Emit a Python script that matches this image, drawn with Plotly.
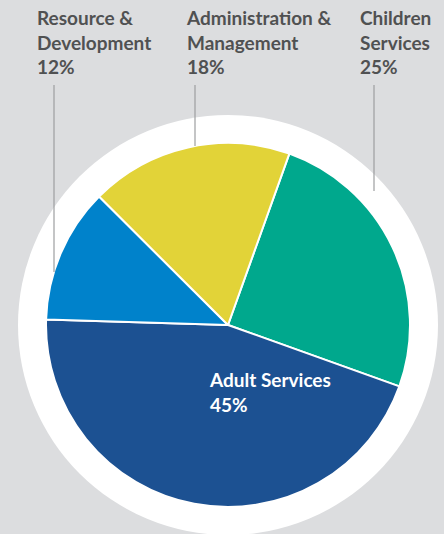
import plotly.graph_objects as go

# Budget split by service area (clockwise from Children Services)
categories = ["Children Services", "Adult Services", "Resource & Development", "Administration & Management"]
shares = [25, 45, 12, 18]
label_lines = [["Children", "Services"], ["Adult Services"], ["Resource &", "Development"], ["Administration &", "Management"]]
slice_colors = ["#00a88d", "#1c5192", "#0082cb", "#e2d338"]

W, H = 444, 534
BG = "#dcdddf"
TEXT_DARK = "#505152"
FONT = "Lato"
FONT_SIZE = 19


def px(x):
    return x / W


def py(y):
    return 1 - y / H


# pie geometry (pixels)
cx, cy, r = 228, 325, 182
ring_r = 210

fig = go.Figure(
    go.Pie(
        labels=categories,
        values=shares,
        sort=False,
        direction="clockwise",
        rotation=19.7,
        marker=dict(colors=slice_colors, line=dict(color="white", width=2)),
        textinfo="none",
        hoverinfo="label+percent",
        domain=dict(x=[px(cx - r), px(cx + r)], y=[py(cy + r), py(cy - r)]),
        showlegend=False,
    )
)

shapes = [
    dict(
        type="circle", xref="paper", yref="paper", layer="below",
        x0=px(cx - ring_r), x1=px(cx + ring_r), y0=py(cy + ring_r), y1=py(cy - ring_r),
        fillcolor="white", line=dict(width=0),
    )
]

# outside labels with vertical leader lines
outside = {
    "Resource & Development": dict(tx=35, lx=54, ly=272),
    "Administration & Management": dict(tx=184, lx=195, ly=146),
    "Children Services": dict(tx=358, lx=374, ly=191),
}

annotations = []
for cat, share, lines in zip(categories, shares, label_lines):
    text = "<br>".join(lines + [f"{share}%"])
    if cat in outside:
        o = outside[cat]
        annotations.append(dict(
            text=text, xref="paper", yref="paper", x=px(o["tx"]), y=py(4),
            xanchor="left", yanchor="top", align="left", showarrow=False,
            font=dict(family=FONT, size=FONT_SIZE, color=TEXT_DARK, weight="bold"),
        ))
        shapes.append(dict(
            type="line", xref="paper", yref="paper",
            x0=px(o["lx"]), x1=px(o["lx"]), y0=py(85), y1=py(o["ly"]),
            line=dict(color="#9d9ea0", width=1.2),
        ))
    else:
        annotations.append(dict(
            text=text, xref="paper", yref="paper", x=px(207), y=py(366),
            xanchor="left", yanchor="top", align="left", showarrow=False,
            font=dict(family=FONT, size=FONT_SIZE, color="white", weight="bold"),
        ))

fig.update_layout(
    width=W, height=H,
    margin=dict(l=0, r=0, t=0, b=0),
    paper_bgcolor=BG,
    plot_bgcolor=BG,
    shapes=shapes,
    annotations=annotations,
)

fig.write_html("out.html")
